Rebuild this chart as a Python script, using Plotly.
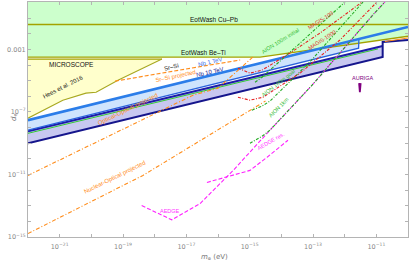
import numpy as np
import plotly.graph_objects as go

# ---------------- data (log10 values) ----------------
x_range_log = [-22, -10]
y_range_log = [-15, 0.03]

x_tick_exps = list(range(-22, -9))
x_label_exps = [-21, -19, -17, -15, -13, -11]
y_tick_exps = list(range(-15, 1))
y_label_exps = [-15, -11, -7, -3]

eotwash_cupb_log_de = -1.41
eotwash_beti_log_m = [-22.0, -14.67, -10.0]
eotwash_beti_log_de = [-3.49, -3.49, -2.16]

microscope_log_de = -3.62
hees_log_m = [-22.0, -20.9, -20.17, -19.85, -19.16, -18.27, -17.77]
hees_log_de = [-7.40, -6.25, -5.80, -5.74, -4.97, -4.13, -3.62]

nb1_top_log_m = [-22.0, -10.0]
nb1_top_log_de = [-7.53, -1.57]
nb1_bot_log_m = [-22.0, -11.56, -11.55]
nb1_bot_log_de = [-8.17, -2.92, -2.34]

nb10_top_log_m = [-22.0, -10.8]
nb10_top_log_de = [-8.24, -2.78]
nb10_bot_log_m = [-22.0, -10.8, -10.8, -10.0]
nb10_bot_log_de = [-9.01, -3.49, -2.53, -2.40]

green_solid_log_m = [-22.0, -10.95]
green_solid_log_de = [-8.37, -2.97]

orange_right_log_m = [-10.73, -10.0]
orange_right_log_de = [-2.50, -2.27]

nuclear_opt_log_m = [-22.0, -18.37, -14.5]
nuclear_opt_log_de = [-14.78, -11.06, -6.30]

optical_opt_log_m = [-22.0, -16.79, -16.0, -14.99, -14.9]
optical_opt_log_de = [-11.06, -5.93, -5.48, -3.69, -3.49]

srsi_proj_log_m = [-19.25, -18.2, -16.7, -15.3]
srsi_proj_log_de = [-5.03, -4.65, -4.15, -3.68]

magis100_log_m = [-15.37, -14.99, -14.61, -13.73, -12.78, -11.45]
magis100_log_de = [-4.20, -4.52, -4.33, -3.24, -1.96, 0.03]

magis1000_log_m = [-15.37, -14.99, -14.58, -13.41, -12.15, -10.98]
magis1000_log_de = [-6.06, -6.25, -6.06, -4.52, -2.40, 0.03]

aion_init_log_m = [-14.83, -14.61, -13.41, -11.99]
aion_init_log_de = [-5.10, -4.78, -2.60, 0.03]

aion_goal_log_m = [-14.93, -14.61, -14.36, -13.10, -11.42]
aion_goal_log_de = [-6.89, -6.63, -6.31, -3.81, 0.03]

aion_1km_log_m = [-14.99, -14.61, -14.36, -13.03, -11.11, -10.73]
aion_1km_log_de = [-9.01, -8.56, -8.17, -5.29, -0.80, 0.03]

aedge_log_m = [-18.41, -17.46, -16.57, -16.36, -15.73, -15.52, -14.36, -13.03, -11.11, -10.73]
aedge_log_de = [-12.99, -13.90, -12.87, -12.45, -11.17, -10.74, -8.17, -5.29, -0.80, 0.03]

aedge_res_log_m = [-16.35, -14.99, -14.45, -13.79]
aedge_res_log_de = [-11.51, -10.74, -9.90, -8.81]

auriga_log_m = [-11.545, -11.52, -11.495]
auriga_log_de = [-5.16, -5.74, -5.16]

# labels: (text, log m, log de, angle, colour, size)
labels = [
    ("EotWash Cu\u2013Pb", -16.13, -1.12, 0, "#111111", 6.5),
    ("EotWash Be\u2013Ti", -16.47, -3.17, 0, "#111111", 6.5),
    ("MICROSCOPE", -20.64, -3.94, 0, "#111111", 6.5),
    ("Hees et al. 2016", -20.9, -5.42, -27, "#111111", 6),
    ("Sr\u2013Si", -17.48, -4.13, -14, "#111111", 6),
    ("Sr\u2013Si projected", -17.33, -4.68, -12, "#ff8c1a", 6),
    ("Nb 1 TeV", -16.25, -3.81, -14, "#3a6fe8", 6),
    ("Nb 10 TeV", -16.25, -4.46, -13, "#23238f", 6),
    ("Optical-Optical projected", -18.84, -6.83, -26, "#ff8c1a", 6),
    ("Nuclear-Optical projected", -19.25, -11.19, -26, "#ff8c1a", 6),
    ("MAGIS-100", -12.75, -1.12, -33, "#e03030", 5.5),
    ("MAGIS-1000", -12.72, -2.40, -33, "#e03030", 5.5),
    ("AION 100m initial", -14.04, -2.47, -32, "#33bb33", 5.5),
    ("AION 100m goal", -14.1, -5.16, -38, "#33bb33", 5.5),
    ("AION 1km", -14.07, -6.70, -45, "#33bb33", 5.5),
    ("AEDGE res.", -14.33, -8.88, -30, "#ff33ff", 5.5),
    ("AEDGE", -17.52, -13.31, 0, "#ff33ff", 5.5),
    ("AURIGA", -11.45, -4.84, 0, "#800080", 5.5),
]


def p(v):
    return [10.0 ** a for a in v]


fig = go.Figure()


def fill(lm, ld, color):
    fig.add_trace(go.Scatter(x=p(lm), y=p(ld), mode="lines", fill="toself",
                             fillcolor=color, line=dict(width=0), hoverinfo="skip",
                             showlegend=False))


def line(lm, ld, color, width=1.0, dash="solid"):
    fig.add_trace(go.Scatter(x=p(lm), y=p(ld), mode="lines",
                             line=dict(color=color, width=width, dash=dash),
                             hoverinfo="skip", showlegend=False))


top = y_range_log[1] + 0.2
# EotWash region
fill([x_range_log[0], x_range_log[1], x_range_log[1]] + eotwash_beti_log_m[::-1][1:],
     [top, top, eotwash_beti_log_de[-1]] + eotwash_beti_log_de[::-1][1:], "#ccffcc")
# MICROSCOPE / Hees region
fill(hees_log_m + [x_range_log[0]], hees_log_de + [microscope_log_de], "#ffffcc")

# Nb 1 TeV band
a_end = nb1_bot_log_m[-1]
a_top_end = float(np.interp(a_end, nb1_top_log_m, nb1_top_log_de))
fill([nb1_top_log_m[0], a_end] + nb1_bot_log_m[::-1],
     [nb1_top_log_de[0], a_top_end] + nb1_bot_log_de[::-1], "rgba(140,190,250,0.42)")
# Nb 10 TeV band
fill(nb10_top_log_m + nb10_bot_log_m[:2][::-1],
     nb10_top_log_de + nb10_bot_log_de[:2][::-1], "rgba(110,110,215,0.38)")

olive = "#a3a300"
line(x_range_log, [eotwash_cupb_log_de] * 2, olive, 1.3)
line(eotwash_beti_log_m, eotwash_beti_log_de, olive, 1.3)
line([x_range_log[0], hees_log_m[-1]], [microscope_log_de] * 2, olive, 1.3)
line(hees_log_m, hees_log_de, "#a8a820", 1.1)

# bands outlines
line(green_solid_log_m, green_solid_log_de, "#33cc33", 1.0)
line(nb10_top_log_m, nb10_top_log_de, "#1c1ca8", 2.0)
line(nb10_bot_log_m, nb10_bot_log_de, "#15158c", 2.0)
line(nb1_bot_log_m, nb1_bot_log_de, "#2a62dc", 1.3)
line(nb1_top_log_m, nb1_top_log_de, "#2b7de9", 2.6)
line(orange_right_log_m, orange_right_log_de, "#ff8c1a", 1.0)

odash = "4px,2px,1px,2px"
line(nuclear_opt_log_m, nuclear_opt_log_de, "#ff8c1a", 1.1, odash)
line(optical_opt_log_m, optical_opt_log_de, "#ff8c1a", 1.1, odash)
line(srsi_proj_log_m, srsi_proj_log_de, "#ff8c1a", 1.1, "4px,2px")

ddash = "3px,1.5px,1px,1.5px"
line(aedge_log_m, aedge_log_de, "#ff22ff", 1.1, "4px,2px")
line(aedge_res_log_m, aedge_res_log_de, "#ff22ff", 1.1, "4px,2px")
line(aion_1km_log_m, aion_1km_log_de, "#22aa22", 1.1, ddash)
line(aion_goal_log_m, aion_goal_log_de, "#22aa22", 1.1, ddash)
line(aion_init_log_m, aion_init_log_de, "#22aa22", 1.1, ddash)
line(magis1000_log_m, magis1000_log_de, "#e62020", 1.1, ddash)
line(magis100_log_m, magis100_log_de, "#e62020", 1.1, ddash)
line(auriga_log_m, auriga_log_de, "#800080", 1.8)

for text, lm, ld, ang, col, sz in labels:
    fig.add_annotation(x=lm, y=ld, xref="x", yref="y", text=text, showarrow=False,
                       textangle=ang, font=dict(size=sz, color=col,
                                                family="Liberation Sans"))

# axis titles as annotations (placed in paper coordinates)
fig.add_annotation(x=0.492, y=-0.058, xref="paper", yref="paper", yanchor="top",
                   text="<i>m</i><sub>\u03c6</sub> (eV)", showarrow=False,
                   font=dict(size=7, color="#777777", family="DejaVu Sans"))
fig.add_annotation(x=-0.053, y=0.51, xref="paper", yref="paper", textangle=-90,
                   text="<i>d</i><sub>e</sub>", showarrow=False,
                   font=dict(size=7, color="#777777", family="DejaVu Sans"))


def sup(e):
    return "10<sup>\u2212%d</sup>" % (-e)


xt_text = [sup(e) if e in x_label_exps else "" for e in x_tick_exps]
yt_text = []
for e in y_tick_exps:
    if e in y_label_exps:
        yt_text.append("0.001" if e == -3 else sup(e))
    else:
        yt_text.append("")

axis_common = dict(type="log", showgrid=False, zeroline=False, showline=True,
                   linecolor="#b4b4b4", linewidth=1, mirror="ticks", ticks="inside",
                   ticklen=3, tickcolor="#b4b4b4", automargin=False,
                   tickfont=dict(size=6.5, color="#888888", family="DejaVu Sans"))

fig.update_xaxes(range=x_range_log, tickvals=p(x_tick_exps), ticktext=xt_text,
                 ticklabelstandoff=3, **axis_common)
fig.update_yaxes(range=y_range_log, tickvals=p(y_tick_exps), ticktext=yt_text,
                 **axis_common)

fig.update_layout(width=411, height=260, margin=dict(l=28, r=3, t=2, b=23, autoexpand=False),
                  plot_bgcolor="white", paper_bgcolor="white", showlegend=False)

fig.write_html("out.html", config={"displayModeBar": False},
               post_script="document.body.style.margin='0px';")
